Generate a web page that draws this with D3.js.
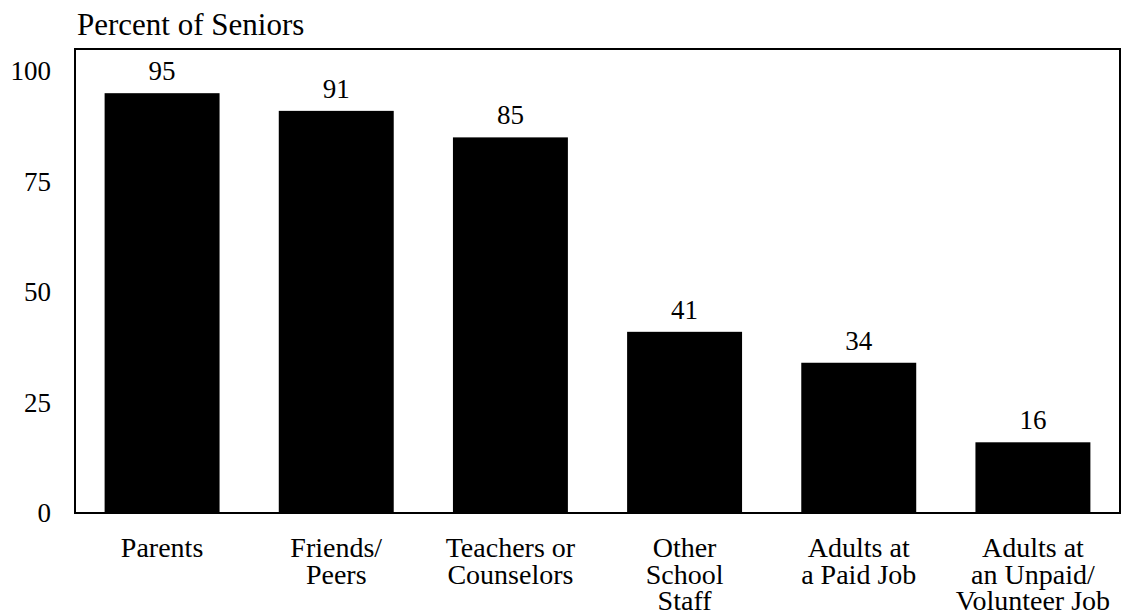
<!DOCTYPE html>
<html>
<head>
<meta charset="UTF-8">
<script src="https://d3js.org/d3.v7.min.js"></script>
<style>
    body { margin: 0; background: #fff; }
    svg text { font-family: "Liberation Serif", "Times New Roman", Times, serif !important; fill: #000; }
</style>
</head>
<body>
<svg width="1126" height="615"></svg>
<script>
    // data
    var categories = ["Parents", "Friends/ Peers", "Teachers or Counselors", "Other School Staff", "Adults at a Paid Job", "Adults at an Unpaid/ Volunteer Job"];
    var labelLines = [["Parents"], ["Friends/", "Peers"], ["Teachers or", "Counselors"], ["Other", "School", "Staff"], ["Adults at", "a Paid Job"], ["Adults at", "an Unpaid/", "Volunteer Job"]];
    var values = [95, 91, 85, 41, 34, 16];
    var yTicks = [0, 25, 50, 75, 100];

    var svg = d3.select("svg");
    var pLeft = 75, pRight = 1120, pTop = 49, pBottom = 513;

    var x = d3.scaleBand().domain(categories).range([pLeft, pRight])
        .paddingInner(0.34).paddingOuter(0.17);
    var y = d3.scaleLinear().domain([0, 105]).range([pBottom, pTop]);

    // title
    svg.append("text")
        .attr("x", 77).attr("y", 35)
        .attr("font-size", "31px")
        .text("Percent of Seniors");

    // bars
    svg.selectAll(".bar")
        .data(values)
        .enter().append("rect")
        .attr("class", "bar")
        .attr("x", function(d, i) { return x(categories[i]); })
        .attr("y", function(d) { return y(d); })
        .attr("width", x.bandwidth())
        .attr("height", function(d) { return y(0) - y(d); })
        .attr("fill", "#000");

    // value labels
    svg.selectAll(".val")
        .data(values)
        .enter().append("text")
        .attr("class", "val")
        .attr("x", function(d, i) { return x(categories[i]) + x.bandwidth() / 2; })
        .attr("y", function(d) { return y(d) - 13; })
        .attr("text-anchor", "middle")
        .attr("font-size", "27px")
        .text(function(d) { return d; });

    // frame
    svg.append("rect")
        .attr("x", pLeft).attr("y", pTop)
        .attr("width", pRight - pLeft).attr("height", pBottom - pTop)
        .attr("fill", "none")
        .attr("stroke", "#000")
        .attr("stroke-width", 2);

    // y axis labels, no tick marks
    var yAxis = svg.append("g")
        .attr("transform", "translate(" + (pLeft - 24) + ",0)")
        .call(d3.axisLeft(y).tickValues(yTicks).tickSize(0).tickPadding(0));
    yAxis.select(".domain").remove();
    yAxis.selectAll("text")
        .attr("font-size", "27px")
        .attr("fill", "#000");

    // category labels
    var cat = svg.selectAll(".cat")
        .data(labelLines)
        .enter().append("text")
        .attr("class", "cat")
        .attr("text-anchor", "middle")
        .attr("font-size", "28px");
    cat.selectAll("tspan")
        .data(function(d, i) { return d.map(function(s) { return { s: s, i: i }; }); })
        .enter().append("tspan")
        .attr("x", function(d) { return x(categories[d.i]) + x.bandwidth() / 2; })
        .attr("y", function(d, j) { return 557 + j * 26.5; })
        .text(function(d) { return d.s; });
</script>
</body>
</html>
